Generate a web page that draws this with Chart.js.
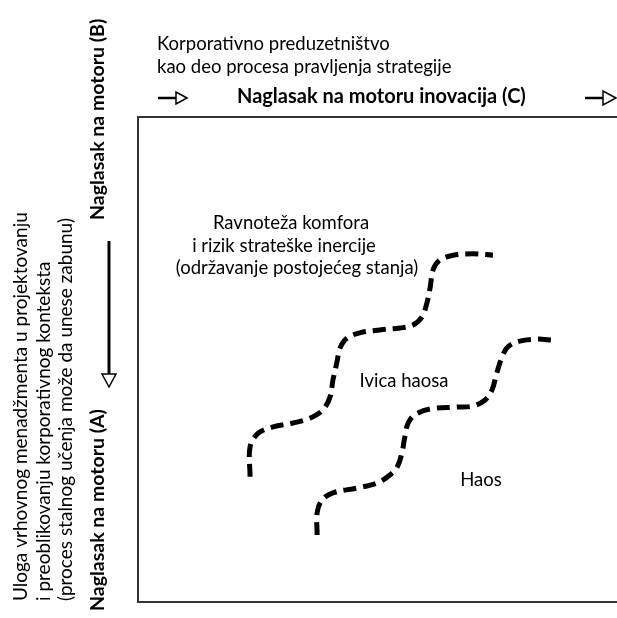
<!DOCTYPE html>
<html lang="sr">
<head>
  <meta charset="UTF-8">
  <title>Ivica haosa</title>
  <script src="https://cdn.jsdelivr.net/npm/chart.js"></script>
  <style>
    html, body { margin: 0; padding: 0; background: #fff; }
    #wrap { width: 617px; height: 618px; }
  </style>
</head>
<body>
<div id="wrap"><canvas id="chart"></canvas></div>

<script>
  // Two boundary curves, in box units (0..100 both ways, y from the bottom)
  const upperX = [23.4, 23.4, 25.1, 28.2, 32.4, 35.9, 38.6, 40.1, 40.7, 41.5, 42.2, 43.6, 46.3, 50.5, 54.7, 57.4, 59.3, 60.3, 61.0, 61.6, 63.0, 65.8, 69.9, 74.1];
  const upperY = [25.8, 32.0, 34.8, 36.1, 36.9, 37.9, 39.6, 42.3, 45.8, 49.3, 52.4, 54.4, 55.5, 56.1, 56.5, 57.1, 58.8, 61.6, 64.9, 68.5, 70.5, 71.5, 71.8, 71.5];
  const lowerX = [37.4, 37.4, 38.4, 40.7, 45.7, 49.9, 52.6, 54.1, 55.1, 55.7, 56.4, 57.8, 61.0, 66.6, 69.9, 72.4, 73.9, 74.9, 76.0, 77.2, 79.7, 83.3, 86.6];
  const lowerY = [13.8, 18.4, 21.0, 22.5, 23.5, 24.5, 26.2, 27.8, 30.7, 34.0, 36.9, 38.6, 39.8, 40.2, 40.4, 41.6, 43.7, 47.2, 50.5, 52.6, 53.8, 54.2, 54.0];

  const topLines = ['Korporativno preduzetništvo', 'kao deo procesa pravljenja strategije'];
  const axisC = 'Naglasak na motoru inovacija (C)';
  const axisB = 'Naglasak na motoru (B)';
  const axisA = 'Naglasak na motoru (A)';
  const sideLines = [
    'Uloga vrhovnog menadžmenta u projektovanju',
    'i preoblikovanju korporativnog konteksta',
    '(proces stalnog učenja može da unese zabunu)'
  ];
  const comfortLines = ['Ravnoteža komfora', 'i rizik strateške inercije', '(održavanje postojećeg stanja)'];
  const edgeLabel = 'Ivica haosa';
  const chaosLabel = 'Haos';

  const toPoints = (xs, ys) => xs.map((x, i) => ({ x: x, y: ys[i] }));

  const FONT = 'Lato, "Noto Sans", sans-serif';

  function openArrowHead(ctx, tipX, tipY, dir, len, half) {
    ctx.save();
    ctx.beginPath();
    if (dir === 'right') {
      ctx.moveTo(tipX, tipY);
      ctx.lineTo(tipX - len, tipY - half);
      ctx.lineTo(tipX - len, tipY + half);
    } else {
      ctx.moveTo(tipX, tipY);
      ctx.lineTo(tipX - half, tipY - len);
      ctx.lineTo(tipX + half, tipY - len);
    }
    ctx.closePath();
    ctx.fillStyle = '#fff';
    ctx.fill();
    ctx.lineWidth = 1.5;
    ctx.strokeStyle = '#000';
    ctx.stroke();
    ctx.restore();
  }

  const decor = {
    id: 'decor',
    afterDraw(chart) {
      const ctx = chart.ctx;
      const a = chart.chartArea;
      ctx.save();

      // box: left, top and bottom edges (right side runs off the picture)
      ctx.strokeStyle = '#333';
      ctx.lineWidth = 2;
      ctx.beginPath();
      ctx.moveTo(a.right + 2, a.top);
      ctx.lineTo(a.left, a.top);
      ctx.lineTo(a.left, a.bottom);
      ctx.lineTo(a.right + 2, a.bottom);
      ctx.stroke();

      ctx.fillStyle = '#000';
      ctx.textBaseline = 'middle';

      // top caption
      ctx.font = '18.5px ' + FONT;
      ctx.textAlign = 'left';
      ctx.fillText(topLines[0], 157, 44);
      ctx.fillText(topLines[1], 157, 67);

      // horizontal axis label with arrows
      ctx.font = 'bold 20px ' + FONT;
      ctx.fillText(axisC, 237, 97);
      ctx.strokeStyle = '#000';
      ctx.lineWidth = 2.5;
      ctx.beginPath();
      ctx.moveTo(158, 98); ctx.lineTo(176, 98);
      ctx.moveTo(585, 98); ctx.lineTo(603, 98);
      ctx.stroke();
      openArrowHead(ctx, 187, 98, 'right', 11, 6);
      openArrowHead(ctx, 616, 98, 'right', 13, 7);

      // vertical arrow
      ctx.lineWidth = 3;
      ctx.beginPath();
      ctx.moveTo(109, 241); ctx.lineTo(109, 374);
      ctx.stroke();
      openArrowHead(ctx, 109, 387, 'down', 13, 7);

      // rotated labels
      ctx.save();
      ctx.translate(98, 0);
      ctx.rotate(-Math.PI / 2);
      ctx.font = 'bold 19.5px ' + FONT;
      ctx.fillStyle = '#000';
      ctx.textAlign = 'left';
      ctx.fillText(axisB, -220, 0);
      ctx.fillText(axisA, -611, 0);
      ctx.restore();

      ctx.save();
      ctx.rotate(-Math.PI / 2);
      ctx.font = '19px ' + FONT;
      ctx.fillStyle = '#000';
      ctx.textAlign = 'left';
      const sideX = [21, 44, 66];
      sideLines.forEach((t, i) => ctx.fillText(t, -601, sideX[i]));
      ctx.restore();

      // region labels
      ctx.font = '18.5px ' + FONT;
      ctx.fillStyle = '#000';
      ctx.textAlign = 'center';
      ctx.fillText(comfortLines[0], 291, 223);
      ctx.fillText(comfortLines[1], 284, 246);
      ctx.fillText(comfortLines[2], 297, 268);
      ctx.fillText(edgeLabel, 404, 381);
      ctx.fillText(chaosLabel, 481, 480);

      ctx.restore();
    }
  };

  const curveStyle = {
    showLine: true,
    borderColor: '#000',
    borderWidth: 5,
    borderDash: [13, 7],
    tension: 0.35,
    pointRadius: 0,
    fill: false
  };

  new Chart(document.getElementById('chart'), {
    type: 'scatter',
    data: {
      datasets: [
        Object.assign({ label: 'upper', data: toPoints(upperX, upperY) }, curveStyle),
        Object.assign({ label: 'lower', data: toPoints(lowerX, lowerY) }, curveStyle)
      ]
    },
    options: {
      responsive: true,
      maintainAspectRatio: false,
      animation: false,
      layout: { padding: { left: 138, top: 117, right: 0, bottom: 16 } },
      scales: {
        x: { type: 'linear', min: 0, max: 100, display: false },
        y: { type: 'linear', min: 0, max: 100, display: false }
      },
      plugins: {
        legend: { display: false },
        tooltip: { enabled: false }
      }
    },
    plugins: [decor]
  });
</script>
</body>
</html>
